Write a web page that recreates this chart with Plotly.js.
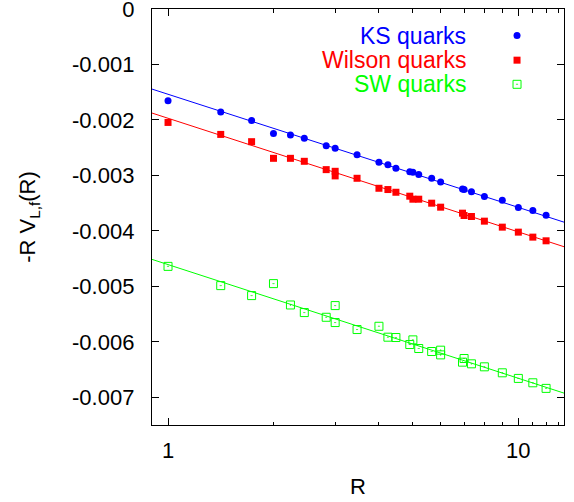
<!DOCTYPE html>
<html>
<head>
<meta charset="utf-8">
<script src="https://cdn.plot.ly/plotly-3.0.1.min.js"></script>
<style>html,body{margin:0;padding:0;background:#fff;}#chart{width:574px;height:502px;}</style>
</head>
<body>
<div id="chart"></div>
<script>
// Lattice separations R
var ksR = [1, 1.414, 1.732, 2, 2.236, 2.449, 2.828, 3, 3.464, 4, 4.243, 4.472, 4.899, 5, 5.196, 5.657, 6, 6.928, 7, 7.348, 8, 9, 10, 11, 12];
var ksV = [-0.001655, -0.001858, -0.002009, -0.002243, -0.002273, -0.002332, -0.002464, -0.002512, -0.002626, -0.002764, -0.002806, -0.002872, -0.002932, -0.002944, -0.002986, -0.003052, -0.003118, -0.003243, -0.003255, -0.003297, -0.003381, -0.003448, -0.003579, -0.003633, -0.003717];

var wilsonR = [1, 1.414, 1.732, 2, 2.236, 2.449, 2.828, 3, 3, 3.464, 4, 4.243, 4.472, 4.899, 5, 5.196, 5.657, 6, 6.928, 7, 7.348, 8, 9, 10, 11, 12];
var wilsonV = [-0.002045, -0.002261, -0.002392, -0.002692, -0.002692, -0.002746, -0.002896, -0.002926, -0.003009, -0.003052, -0.003232, -0.003255, -0.003304, -0.003375, -0.003429, -0.003429, -0.003501, -0.003573, -0.003681, -0.003723, -0.003741, -0.003825, -0.003933, -0.004023, -0.004113, -0.004179];

var swR = [1, 1.414, 1.732, 2, 2.236, 2.449, 2.828, 3, 3, 3.464, 4, 4.243, 4.472, 4.899, 5, 5.196, 5.657, 6, 6, 6.928, 7, 7.348, 8, 9, 10, 11, 12];
var swV = [-0.00464, -0.004987, -0.005167, -0.004951, -0.005336, -0.005473, -0.005558, -0.005347, -0.005653, -0.005779, -0.00572, -0.005917, -0.005923, -0.006049, -0.005965, -0.006121, -0.006175, -0.006151, -0.006236, -0.006367, -0.006301, -0.006397, -0.006451, -0.006559, -0.00666, -0.006739, -0.00684];

// Fit lines (end points across the plotted range)
var fitR = [0.9, 13.5];
var ksFit = [-0.001444, -0.003843];
var wilsonFit = [-0.001876, -0.004286];
var swFit = [-0.004514, -0.006925];

var seriesNames = ["KS quarks", "Wilson quarks", "SW quarks"];
var seriesColors = ["#0000ff", "#ff0000", "#00ff00"];
var yTickVals = [0, -0.001, -0.002, -0.003, -0.004, -0.005, -0.006, -0.007];
var yTickText = ["0", "-0.001", "-0.002", "-0.003", "-0.004", "-0.005", "-0.006", "-0.007"];
var xTickVals = [1, 10];
var xTickText = ["1", "10"];
var xMinorVals = [2, 3, 4, 5, 6, 7, 8, 9, 11, 12, 13];

var FONT = "Liberation Sans, Arial, Helvetica, sans-serif";

var traces = [
  {x: fitR, y: ksFit, mode: "lines", line: {color: seriesColors[0], width: 1}, hoverinfo: "skip", showlegend: false},
  {x: fitR, y: wilsonFit, mode: "lines", line: {color: seriesColors[1], width: 1}, hoverinfo: "skip", showlegend: false},
  {x: fitR, y: swFit, mode: "lines", line: {color: seriesColors[2], width: 1}, hoverinfo: "skip", showlegend: false},
  {x: ksR, y: ksV, mode: "markers", name: seriesNames[0], showlegend: false,
   marker: {symbol: "circle", size: 7, color: seriesColors[0]}},
  {x: wilsonR, y: wilsonV, mode: "markers", name: seriesNames[1], showlegend: false,
   marker: {symbol: "square", size: 7, color: seriesColors[1]}},
  {x: swR, y: swV, mode: "markers", name: seriesNames[2], showlegend: false,
   marker: {symbol: "square-open-dot", size: 8, color: seriesColors[2], line: {width: 1, color: seriesColors[2]}}},
  // legend keys (gnuplot style, marker right of the label)
  {x: [0.886], y: [0.936], xaxis: "x2", yaxis: "y2", mode: "markers", showlegend: false, hoverinfo: "skip",
   marker: {symbol: "circle", size: 7, color: seriesColors[0]}},
  {x: [0.886], y: [0.877], xaxis: "x2", yaxis: "y2", mode: "markers", showlegend: false, hoverinfo: "skip",
   marker: {symbol: "square", size: 7, color: seriesColors[1]}},
  {x: [0.886], y: [0.819], xaxis: "x2", yaxis: "y2", mode: "markers", showlegend: false, hoverinfo: "skip",
   marker: {symbol: "square-open-dot", size: 8, color: seriesColors[2], line: {width: 1, color: seriesColors[2]}}}
];

var legendY = [0.936, 0.877, 0.819];
var annotations = seriesNames.map(function (n, i) {
  return {text: n, xref: "paper", yref: "paper", x: 0.767, y: legendY[i], xanchor: "right", yanchor: "middle",
          showarrow: false, font: {family: FONT, size: 23, color: seriesColors[i]}};
});

var layout = {
  width: 574, height: 502,
  margin: {l: 152, r: 10, t: 9, b: 77},
  paper_bgcolor: "#fff", plot_bgcolor: "#fff",
  showlegend: false,
  font: {family: FONT, color: "#000"},
  xaxis: {
    type: "log", range: [Math.log10(0.9), Math.log10(13.5)],
    tickmode: "array", tickvals: xTickVals, ticktext: xTickText,
    ticks: "inside", ticklen: 7, tickwidth: 1, tickcolor: "#000",
    minor: {tickmode: "array", tickvals: xMinorVals, ticks: "inside", ticklen: 3.5, tickwidth: 1, tickcolor: "#000", showgrid: false},
    showline: true, linecolor: "#000", linewidth: 1.2, mirror: "ticks",
    showgrid: false, zeroline: false, ticklabeloverflow: "allow",
    tickfont: {size: 22, family: FONT}, ticklabelstandoff: 5,
    title: {text: "R", font: {size: 22, family: FONT}, standoff: 17}
  },
  yaxis: {
    range: [-0.0075, 0],
    tickmode: "array", tickvals: yTickVals, ticktext: yTickText,
    ticks: "inside", ticklen: 7, tickwidth: 1, tickcolor: "#000",
    showline: true, linecolor: "#000", linewidth: 1.2, mirror: "ticks",
    showgrid: false, zeroline: false, ticklabeloverflow: "allow",
    tickfont: {size: 22, family: FONT}, ticklabelstandoff: 12,
    title: {text: "-R V<sub>L,f</sub>(R)", font: {size: 22, family: FONT}, standoff: 30}
  },
  xaxis2: {overlaying: "x", anchor: "y2", range: [0, 1], visible: false, fixedrange: true},
  yaxis2: {overlaying: "y", anchor: "x2", range: [0, 1], visible: false, fixedrange: true},
  annotations: annotations
};

Plotly.newPlot("chart", traces, layout, {displayModeBar: false, staticPlot: true});
</script>
</body>
</html>
